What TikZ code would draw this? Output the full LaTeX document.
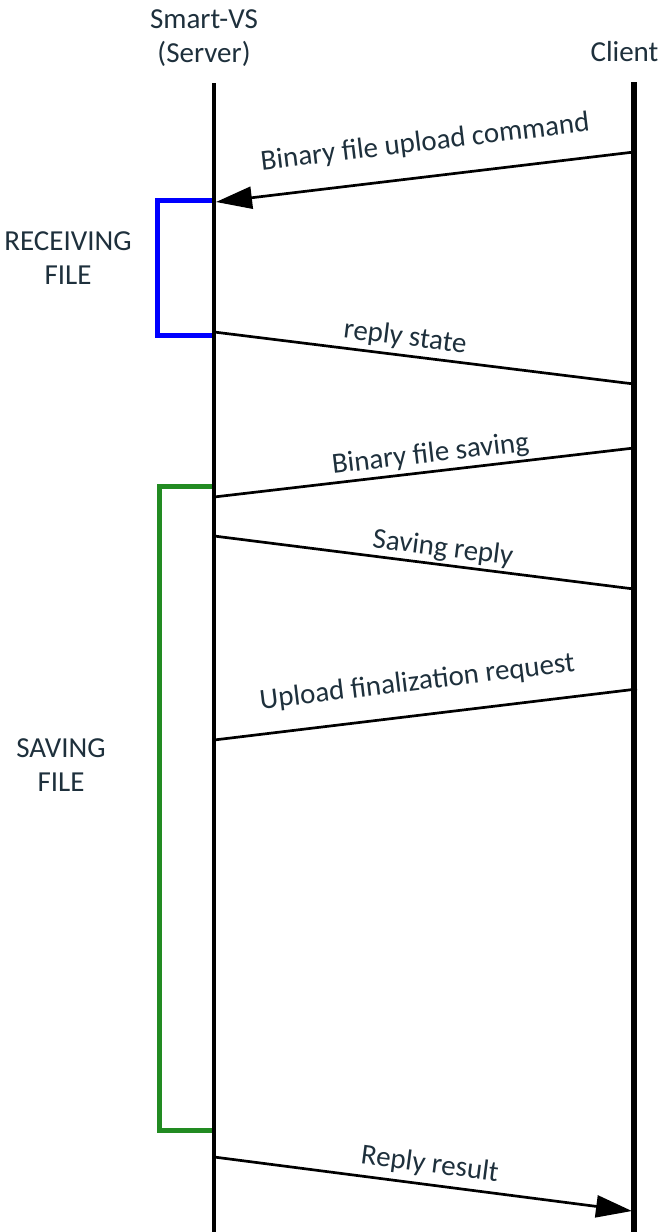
\documentclass[tikz,border=0pt]{standalone}
\usepackage{fontspec}
\setmainfont{Carlito}
\usetikzlibrary{arrows.meta}
\definecolor{labeltext}{RGB}{30,48,60}
\definecolor{recvblue}{RGB}{0,0,255}
\definecolor{savegreen}{RGB}{34,139,34}

\begin{document}
\begin{tikzpicture}[x=1pt,y=-1pt,>={Triangle[length=36pt,width=22pt]},
  lbl/.style={font=\fontsize{29}{34}\selectfont,text=labeltext,inner sep=0pt},
  msg/.style={line width=2.7pt},
  phase/.style={line width=5pt}]
\useasboundingbox (0,0) rectangle (659,1232);
% ---- participants ----
\node[lbl,align=center] (srv) at (204,38) {Smart-VS\\(Server)};
\node[lbl,anchor=base] (cli) at (624.5,61.5) {Client};
\coordinate (srvtop) at (214,83);
\coordinate (srvend) at (214,1232);
\coordinate (clitop) at (634,82);
\coordinate (cliend) at (634,1232);
% ---- phases ----
\coordinate (recvtop) at (214,200);
\coordinate (recvbot) at (214,335);
\coordinate (savetop) at (214,486);
\coordinate (savebot) at (214,1130);
\draw[phase,recvblue] (recvtop) -- ++(-57,0) |- (recvbot);
\draw[phase,savegreen] (savetop) -- ++(-55,0) |- (savebot);
\node[lbl,align=center] (recv) at (68,258) {RECEIVING\\FILE};
\node[lbl,align=center] (save) at (61,765) {SAVING\\FILE};
% ---- lifelines ----
\draw[line width=4.5pt] (srvtop) -- (srvend);
\draw[line width=5.5pt] (clitop) -- (cliend);
% ---- messages ----
\coordinate (cmd-c) at (634,152);
\coordinate (cmd-s) at (216,202);
\coordinate (state-s) at (214,332);
\coordinate (state-c) at (634,384);
\coordinate (save-s) at (214,497);
\coordinate (save-c) at (634,448);
\coordinate (saverep-s) at (214,536);
\coordinate (saverep-c) at (634,589);
\coordinate (final-s) at (214,740);
\coordinate (final-c) at (637,689);
\coordinate (result-s) at (214,1157);
\coordinate (result-c) at (632,1211);
\draw[msg,->] (cmd-c) -- node[lbl,pos=0.49,sloped,above=20pt] {Binary file upload command} (cmd-s);
\draw[msg] (state-s) -- node[lbl,pos=0.45,sloped,above=4pt] {reply state} (state-c);
\draw[msg] (save-s) -- node[lbl,pos=0.52,sloped,above=3pt] {Binary file saving} (save-c);
\draw[msg] (saverep-s) -- node[lbl,pos=0.54,sloped,above=2pt] {Saving reply} (saverep-c);
\draw[msg] (final-s) -- node[lbl,pos=0.49,sloped,above=19pt] {Upload finalization request} (final-c);
\draw[msg,->] (result-s) -- node[lbl,pos=0.51,sloped,above=6pt] {Reply result} (result-c);
\end{tikzpicture}
\end{document}
